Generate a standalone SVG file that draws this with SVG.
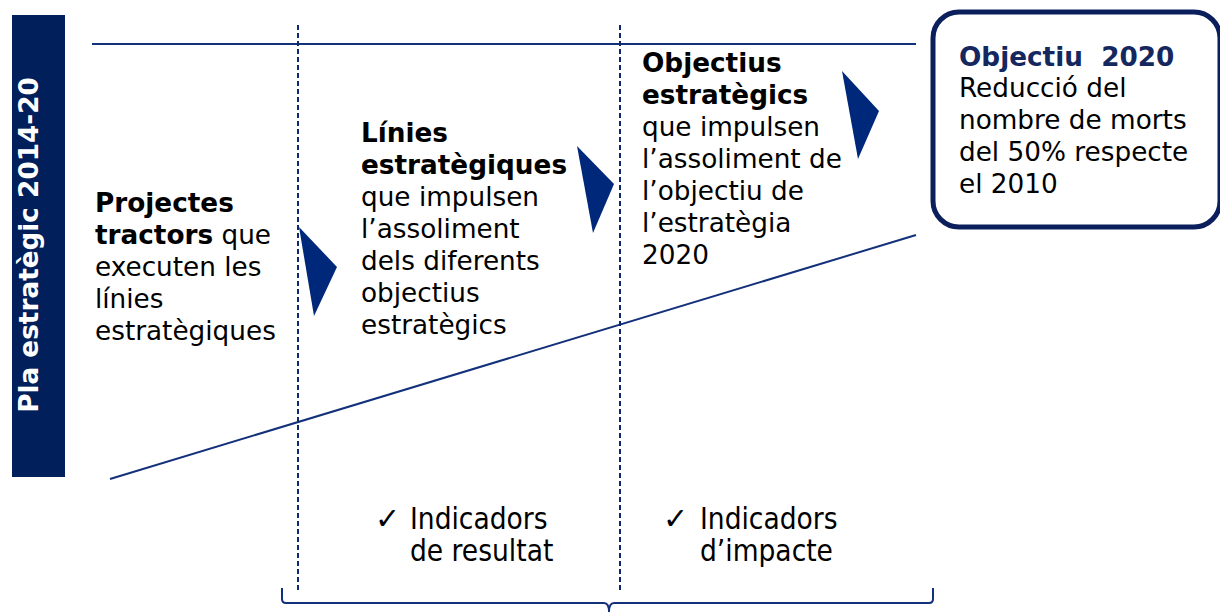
<svg xmlns="http://www.w3.org/2000/svg" width="1220" height="613" viewBox="0 0 1220 613">
<style>
.t{font-family:"DejaVu Sans","Verdana",sans-serif;font-size:26.3px;fill:#000}
.b{font-weight:bold}
.ind{font-family:"DejaVu Sans Condensed","DejaVu Sans",sans-serif;font-stretch:condensed;font-size:29.5px;fill:#000}
.chk{font-family:"DejaVu Sans",sans-serif;font-size:30px;fill:#000}
.ln{stroke:#13307a;stroke-width:2;fill:none}
.dash{stroke:#0b2a6b;stroke-width:2;stroke-dasharray:5 3;fill:none}
.arr{fill:#00287a}
</style>
<rect width="1220" height="613" fill="#fff"/>
<g id="side-bar">
<rect x="12" y="15" width="53" height="462" fill="#001f5b"/>
<text class="t b" transform="translate(38,245) rotate(-90)" text-anchor="middle" style="fill:#fff">Pla estratègic 2014-20</text>
</g>
<g id="connectors">
<line class="ln" x1="92" y1="44" x2="916" y2="44"/>
<line class="ln" x1="110" y1="479" x2="916" y2="235"/>
<line class="dash" x1="298" y1="25" x2="298" y2="590"/>
<line class="dash" x1="620" y1="25" x2="620" y2="590"/>
<path class="ln" d="M282,588 L282,599 Q282,603 286,603 L604,603 Q609,603 609,612 Q609,603 614,603 L929,603 Q933,603 933,599 L933,588"/>
<polygon class="arr" points="299,227 337,267 314,316"/>
<polygon class="arr" points="577,146 614,184 593,233"/>
<polygon class="arr" points="842,71 879,111 858,159"/>
</g>
<g id="projectes">
<text class="t" x="95" y="212"><tspan class="b">Projectes</tspan></text>
<text class="t" x="95" y="244"><tspan class="b">tractors</tspan> que</text>
<text class="t" x="95" y="276">executen les</text>
<text class="t" x="95" y="308">línies</text>
<text class="t" x="95" y="340">estratègiques</text>
</g>
<g id="linies">
<text class="t b" x="361" y="142">Línies</text>
<text class="t b" x="361" y="174">estratègiques</text>
<text class="t" x="361" y="206">que impulsen</text>
<text class="t" x="361" y="238">l’assoliment</text>
<text class="t" x="361" y="270">dels diferents</text>
<text class="t" x="361" y="302">objectius</text>
<text class="t" x="361" y="334">estratègics</text>
</g>
<g id="objectius">
<text class="t b" x="642" y="72">Objectius</text>
<text class="t b" x="642" y="104">estratègics</text>
<text class="t" x="642" y="136">que impulsen</text>
<text class="t" x="642" y="168">l’assoliment de</text>
<text class="t" x="642" y="200">l’objectiu de</text>
<text class="t" x="642" y="232">l’estratègia</text>
<text class="t" x="642" y="264">2020</text>
</g>
<g id="objectiu-2020">
<rect x="933" y="12" width="287" height="215" rx="26" fill="#fff" stroke="#0a1f5c" stroke-width="5"/>
<text class="t b" x="959" y="66" style="fill:#14285f" xml:space="preserve">Objectiu  2020</text>
<text class="t" x="959" y="97">Reducció del</text>
<text class="t" x="959" y="129">nombre de morts</text>
<text class="t" x="959" y="161">del 50% respecte</text>
<text class="t" x="959" y="193">el 2010</text>
</g>
<g id="indicadors-resultat">
<text class="chk" x="375" y="529">✓</text>
<text class="ind" x="410" y="529">Indicadors</text>
<text class="ind" x="410" y="561">de resultat</text>
</g>
<g id="indicadors-impacte">
<text class="chk" x="663" y="529">✓</text>
<text class="ind" x="700" y="529">Indicadors</text>
<text class="ind" x="700" y="561">d’impacte</text>
</g>
</svg>
